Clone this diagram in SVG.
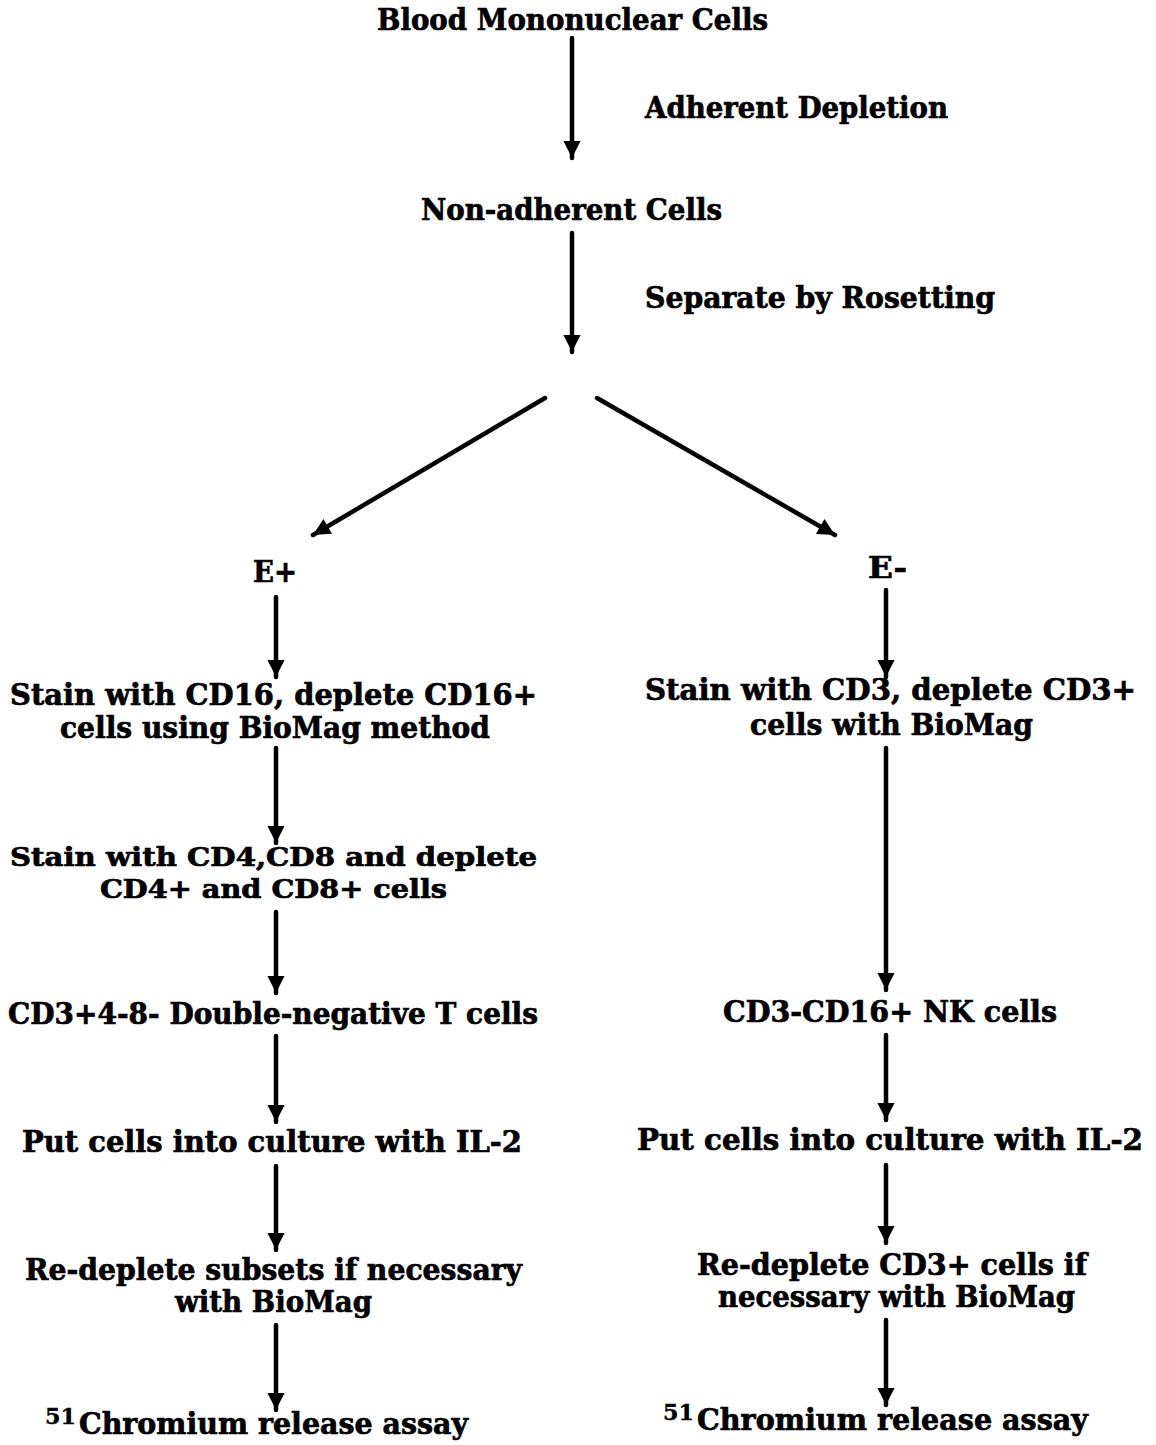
<svg xmlns="http://www.w3.org/2000/svg" width="1156" height="1445" viewBox="0 0 1156 1445">
<style>
text{font-family:"DejaVu Serif","Liberation Serif",serif;font-weight:bold;font-size:29px;fill:#000;stroke:#000;stroke-width:0.7}
.tight{font-size:26px}
.sup{font-size:22px;stroke-width:0.4}
.c{stroke:#000;stroke-width:4.5;fill:none;stroke-linecap:round}
</style>
<defs>
<marker id="ah" viewBox="0 0 10 10" refX="10" refY="5" markerWidth="4.6" markerHeight="3.8" orient="auto" markerUnits="strokeWidth">
<path d="M0,0 L10,5 L0,10 z" fill="#000"/>
</marker>
</defs>
<rect width="1156" height="1445" fill="#fff"/>
<g id="connectors">
<line class="c" x1="572" y1="38" x2="572" y2="158" marker-end="url(#ah)"/>
<line class="c" x1="572" y1="233" x2="572" y2="352" marker-end="url(#ah)"/>
<line class="c" x1="545" y1="398" x2="313" y2="535" marker-end="url(#ah)"/>
<line class="c" x1="597" y1="398" x2="835" y2="535" marker-end="url(#ah)"/>
<line class="c" x1="276" y1="597" x2="276" y2="677" marker-end="url(#ah)"/>
<line class="c" x1="886" y1="590" x2="886" y2="677" marker-end="url(#ah)"/>
<line class="c" x1="276" y1="748" x2="276" y2="843" marker-end="url(#ah)"/>
<line class="c" x1="276" y1="912" x2="276" y2="993" marker-end="url(#ah)"/>
<line class="c" x1="886" y1="748" x2="886" y2="990" marker-end="url(#ah)"/>
<line class="c" x1="276" y1="1036" x2="276" y2="1122" marker-end="url(#ah)"/>
<line class="c" x1="886" y1="1035" x2="886" y2="1120" marker-end="url(#ah)"/>
<line class="c" x1="276" y1="1166" x2="276" y2="1250" marker-end="url(#ah)"/>
<line class="c" x1="886" y1="1165" x2="886" y2="1243" marker-end="url(#ah)"/>
<line class="c" x1="276" y1="1325" x2="276" y2="1410" marker-end="url(#ah)"/>
<line class="c" x1="886" y1="1320" x2="886" y2="1405" marker-end="url(#ah)"/>
</g>
<g id="n-blood"><text x="377" y="30" textLength="391" lengthAdjust="spacingAndGlyphs">Blood Mononuclear Cells</text></g>
<g id="l-adherent"><text x="645" y="118" textLength="303" lengthAdjust="spacingAndGlyphs">Adherent Depletion</text></g>
<g id="n-nonadherent"><text x="421" y="220" textLength="301" lengthAdjust="spacingAndGlyphs">Non-adherent Cells</text></g>
<g id="l-rosetting"><text x="645" y="308" textLength="350" lengthAdjust="spacingAndGlyphs">Separate by Rosetting</text></g>
<g id="n-eplus"><text x="253" y="582" textLength="44" lengthAdjust="spacingAndGlyphs">E+</text></g>
<g id="n-eminus"><text x="868" y="578" textLength="39" lengthAdjust="spacingAndGlyphs">E-</text></g>
<g id="n-stain16">
<text x="10" y="705" textLength="527" lengthAdjust="spacingAndGlyphs">Stain with CD16, deplete CD16+</text>
<text x="60" y="738" textLength="430" lengthAdjust="spacingAndGlyphs">cells using BioMag method</text>
</g>
<g id="n-stain3">
<text x="645" y="700" textLength="491" lengthAdjust="spacingAndGlyphs">Stain with CD3, deplete CD3+</text>
<text x="750" y="735" textLength="283" lengthAdjust="spacingAndGlyphs">cells with BioMag</text>
</g>
<g id="n-stain48">
<text class="tight" x="10" y="866" textLength="527" lengthAdjust="spacingAndGlyphs">Stain with CD4,CD8 and deplete</text>
<text class="tight" x="100" y="898" textLength="347" lengthAdjust="spacingAndGlyphs">CD4+ and CD8+ cells</text>
</g>
<g id="n-dnt"><text x="8" y="1024" textLength="530" lengthAdjust="spacingAndGlyphs">CD3+4-8- Double-negative T cells</text></g>
<g id="n-nk"><text x="723" y="1022" textLength="334" lengthAdjust="spacingAndGlyphs">CD3-CD16+ NK cells</text></g>
<g id="n-cultL"><text x="22" y="1152" textLength="500" lengthAdjust="spacingAndGlyphs">Put cells into culture with IL-2</text></g>
<g id="n-cultR"><text x="637" y="1150" textLength="506" lengthAdjust="spacingAndGlyphs">Put cells into culture with IL-2</text></g>
<g id="n-redepL">
<text x="25" y="1280" textLength="497" lengthAdjust="spacingAndGlyphs">Re-deplete subsets if necessary</text>
<text x="175" y="1312" textLength="197" lengthAdjust="spacingAndGlyphs">with BioMag</text>
</g>
<g id="n-redepR">
<text x="697" y="1275" textLength="390" lengthAdjust="spacingAndGlyphs">Re-deplete CD3+ cells if</text>
<text x="718" y="1307" textLength="357" lengthAdjust="spacingAndGlyphs">necessary with BioMag</text>
</g>
<g id="n-chromL">
<text x="45" y="1434"><tspan class="sup" dy="-10" textLength="31" lengthAdjust="spacingAndGlyphs">51</tspan><tspan x="79" dy="10" textLength="389" lengthAdjust="spacingAndGlyphs">Chromium release assay</tspan></text>
</g>
<g id="n-chromR">
<text x="663" y="1430"><tspan class="sup" dy="-10" textLength="31" lengthAdjust="spacingAndGlyphs">51</tspan><tspan x="697" dy="10" textLength="391" lengthAdjust="spacingAndGlyphs">Chromium release assay</tspan></text>
</g>
</svg>
